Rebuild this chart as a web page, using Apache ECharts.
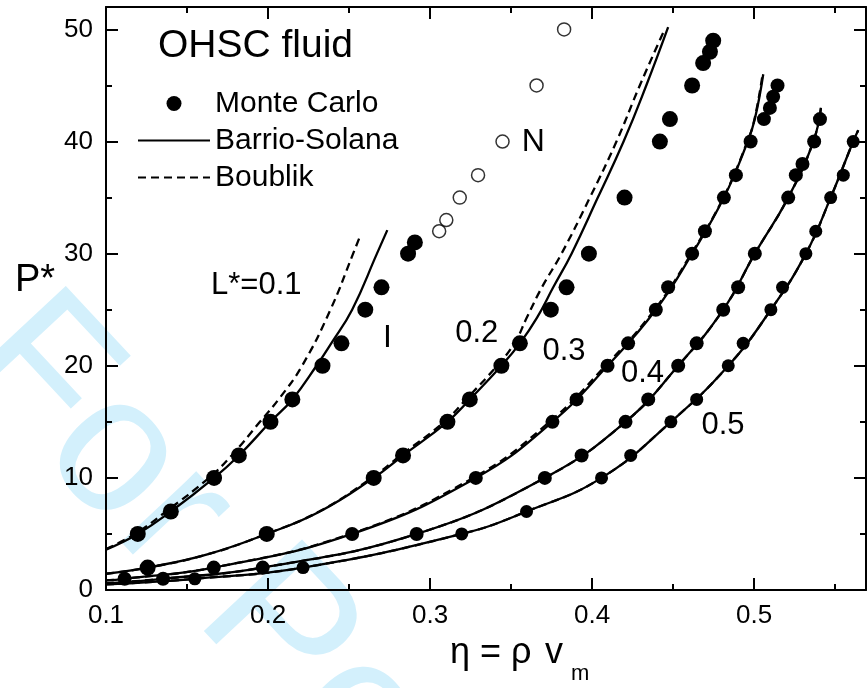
<!DOCTYPE html>
<html>
<head>
<meta charset="utf-8">
<script src="https://cdn.jsdelivr.net/npm/echarts@6/dist/echarts.min.js"></script>
<style>
html,body{margin:0;padding:0;background:#fff;}
#chart{width:867px;height:688px;}
</style>
</head>
<body>
<div id="chart"></div>
<script>
// ---------- axis ranges / ticks ----------
const xRange = [0.1, 0.569];
const yRange = [0, 52];
const xMajor = 0.1, xMinor = 0.05;
const yMajor = 10, yMinor = 5;

// ---------- Monte Carlo (filled) [eta, P*] ----------
const mcL01 = [[0.1196,5],[0.1400,7],[0.1667,10],[0.1820,12],[0.2015,15],[0.2150,17],[0.2336,20],[0.2453,22],[0.2600,25],[0.2700,27],[0.2864,30],[0.2906,31]];
const mcL02 = [[0.1257,2],[0.1992,5],[0.2652,10],[0.2833,12],[0.3107,15],[0.3245,17],[0.3440,20],[0.3554,22],[0.3745,25],[0.3842,27],[0.3980,30],[0.4200,35],[0.4418,40],[0.4480,42],[0.4617,45],[0.4685,47],[0.4727,48],[0.4747,49]];
const mcL03 = [[0.1115,1],[0.1665,2],[0.2519,5],[0.3282,10],[0.3755,15],[0.3904,17],[0.4095,20],[0.4222,22],[0.4393,25],[0.4469,27],[0.4617,30],[0.4696,32],[0.4813,35],[0.4887,37],[0.4978,40],[0.5060,42],[0.5097,43],[0.5117,44],[0.5144,45]];
const mcL04 = [[0.1352,1],[0.1967,2],[0.2917,5],[0.3708,10],[0.3935,12],[0.4206,15],[0.4346,17],[0.4531,20],[0.4645,22],[0.4809,25],[0.4901,27],[0.5004,30],[0.5210,35],[0.5257,37],[0.5298,38],[0.5370,40],[0.5406,42]];
const mcL05 = [[0.1548,1],[0.2216,2],[0.3195,5],[0.3595,7],[0.4058,10],[0.4238,12],[0.4486,15],[0.4645,17],[0.4840,20],[0.4932,22],[0.5103,25],[0.5175,27],[0.5319,30],[0.5380,32],[0.5472,35],[0.5550,37],[0.5611,40]];
// ---------- Monte Carlo nematic branch (open circles) ----------
const mcNematic = [[0.3056,32],[0.3100,33],[0.3183,35],[0.3296,37],[0.3447,40],[0.3657,45],[0.3827,50]];

// ---------- Barrio-Solana (solid) ----------
const bsL01 = [[0.100,3.6],[0.1196,5],[0.1400,7],[0.1667,10],[0.1820,12],[0.2015,15],[0.2150,17],[0.2299,20],[0.2390,22],[0.2519,25],[0.2672,30],[0.2736,32.1]];
const bsL02 = [[0.100,1.45],[0.1257,2],[0.162,3.15],[0.1992,5],[0.2320,7],[0.2652,10],[0.2833,12],[0.3107,15],[0.3245,17],[0.3440,20],[0.3554,22],[0.3660,24.3],[0.3760,27],[0.3873,30],[0.4035,35],[0.4194,40],[0.4334,45],[0.4469,50.2]];
const bsL03 = [[0.100,0.85],[0.1115,1],[0.1665,2],[0.2519,5],[0.3282,10],[0.3755,15],[0.4095,20],[0.4393,25],[0.4617,30],[0.4813,35],[0.4960,40],[0.5004,42],[0.5056,46]];
const bsL04 = [[0.100,0.6],[0.1352,1],[0.1967,2],[0.2917,5],[0.3708,10],[0.4206,15],[0.4531,20],[0.4809,25],[0.5004,30],[0.5210,35],[0.5365,40],[0.5412,43]];
const bsL05 = [[0.100,0.5],[0.1548,1],[0.2216,2],[0.3195,5],[0.3595,7],[0.4058,10],[0.4486,15],[0.4840,20],[0.5103,25],[0.5319,30],[0.5472,35],[0.5611,40],[0.5642,41]];

// ---------- Boublik (dashed) ----------
const bbL01 = [[0.100,3.65],[0.1185,5.05],[0.1375,7.05],[0.1635,10],[0.1775,12],[0.1950,15],[0.2065,17],[0.2210,20],[0.2385,25],[0.2525,30],[0.2570,31.65]];
const bbL02 = [[0.100,1.45],[0.1257,2],[0.162,3.15],[0.1990,5],[0.2315,7],[0.2640,10],[0.2818,12],[0.3088,15],[0.3222,17],[0.3413,20],[0.3520,22],[0.3597,24.3],[0.3690,27],[0.3811,30],[0.3986,35],[0.4150,40],[0.4294,45],[0.4438,49.7]];
const bbL03 = [[0.100,0.85],[0.1115,1],[0.1660,2],[0.2508,5],[0.3265,10],[0.3738,15],[0.4082,20],[0.4385,25],[0.4612,30],[0.4810,35],[0.4958,40],[0.5002,42],[0.5052,46]];
const bbL04 = [[0.100,0.6],[0.1352,1],[0.1967,2],[0.2917,5],[0.3708,10],[0.4206,15],[0.4531,20],[0.4809,25],[0.5004,30],[0.5210,35],[0.5365,40],[0.5412,43]];
const bbL05 = [[0.100,0.5],[0.1548,1],[0.2216,2],[0.3195,5],[0.3595,7],[0.4058,10],[0.4486,15],[0.4840,20],[0.5103,25],[0.5319,30],[0.5472,35],[0.5611,40],[0.5642,41]];

const FONT = 'Liberation Sans, Arial, Helvetica, sans-serif';

function isMultiple(v, step) {
  const r = v / step;
  return Math.abs(r - Math.round(r)) < 1e-6;
}

function xAxisDef(position, interval, tickLen, withLabels, withLine) {
  return {
    type: 'value', position: position, min: xRange[0], max: xRange[1], interval: interval,
    axisLine: { show: withLine, onZero: false, lineStyle: { color: '#000', width: 2 } },
    axisTick: { show: true, inside: true, length: tickLen, lineStyle: { color: '#000', width: 2 } },
    axisLabel: {
      show: withLabels, margin: 13, color: '#000', fontSize: 26, fontFamily: FONT,
      formatter: function (v) { return isMultiple(v, xMajor) ? v.toFixed(1) : ''; }
    },
    splitLine: { show: false }
  };
}
function yAxisDef(position, interval, tickLen, withLabels, withLine) {
  return {
    type: 'value', position: position, min: yRange[0], max: yRange[1], interval: interval,
    axisLine: { show: withLine, onZero: false, lineStyle: { color: '#000', width: 2 } },
    axisTick: { show: true, inside: true, length: tickLen, lineStyle: { color: '#000', width: 2 } },
    axisLabel: {
      show: withLabels, margin: 13, color: '#000', fontSize: 26, fontFamily: FONT,
      formatter: function (v) { return isMultiple(v, yMajor) ? String(Math.round(v)) : ''; }
    },
    splitLine: { show: false }
  };
}

function lineSeries(name, data, dashed) {
  return {
    name: name, type: 'line', data: data, symbol: 'none', showSymbol: false,
    smooth: 0.45, silent: true, z: dashed ? 2 : 3,
    lineStyle: { color: '#000', width: 2.3, type: dashed ? [8, 5] : 'solid' }
  };
}
function mcSeries(name, data, size) {
  return {
    name: name, type: 'scatter', data: data, symbol: 'circle', symbolSize: size,
    itemStyle: { color: '#000', opacity: 1 }, silent: true, z: 5
  };
}

const txt = (text, x, y, size, align) => ({
  type: 'text', x: x, y: y, silent: true, z: 10,
  style: { text: text, fill: '#000', fontSize: size, fontFamily: FONT,
           align: align || 'center', verticalAlign: 'middle',
           textAlign: align || 'center', textVerticalAlign: 'middle' }
});

const chart = echarts.init(document.getElementById('chart'), null, { renderer: 'canvas' });
chart.setOption({
  animation: false,
  backgroundColor: '#fff',
  grid: { left: 106, right: 1, top: 7, bottom: 98, containLabel: false, outerBoundsMode: 'none' },
  xAxis: [
    xAxisDef('bottom', xMajor, 12, true, true),
    xAxisDef('bottom', xMinor, 6, false, false),
    xAxisDef('top', xMajor, 12, false, true),
    xAxisDef('top', xMinor, 6, false, false)
  ],
  yAxis: [
    yAxisDef('left', yMajor, 12, true, true),
    yAxisDef('left', yMinor, 6, false, false),
    yAxisDef('right', yMajor, 12, false, true),
    yAxisDef('right', yMinor, 6, false, false)
  ],
  legend: {
    orient: 'vertical', left: 137, top: 88.5, padding: 0, itemWidth: 72, itemHeight: 15, itemGap: 7,
    itemTextGap: 6, selectedMode: false,
    textStyle: { color: '#000', fontSize: 30, fontFamily: FONT },
    data: [
      { name: 'Monte Carlo', icon: 'circle' },
      { name: 'Barrio-Solana', itemStyle: { opacity: 0 } },
      { name: 'Boublik', itemStyle: { opacity: 0 } }
    ]
  },
  graphic: [
    {
      type: 'text', x: -4, y: 329, rotation: -47 * Math.PI / 180, z: -5, silent: true,
      style: { text: 'For Peer Review', fill: '#d3f0fc', fontSize: 195, fontWeight: 'normal', fontFamily: FONT,
               align: 'left', verticalAlign: 'middle', textAlign: 'left', textVerticalAlign: 'middle' }
    },
    txt('OHSC fluid', 158, 46, 39, 'left'),
    txt('L*=0.1', 211, 285, 31, 'left'),
    txt('I', 387.5, 338, 32),
    txt('0.2', 476.7, 333.3, 31),
    txt('0.3', 564, 351.7, 31),
    txt('0.4', 642.5, 373.3, 31),
    txt('0.5', 723, 425, 31),
    txt('N', 533.3, 142.5, 32),
    txt('P*', 15, 281, 38, 'left'),
    txt('η = ρ', 450, 653, 36, 'left'),
    txt('v', 545, 653, 36, 'left'),
    txt('m', 571, 674, 22, 'left')
  ],
  series: [
    lineSeries('Barrio-Solana', bsL01, false),
    lineSeries('Barrio-Solana', bsL02, false),
    lineSeries('Barrio-Solana', bsL03, false),
    lineSeries('Barrio-Solana', bsL04, false),
    lineSeries('Barrio-Solana', bsL05, false),
    lineSeries('Boublik', bbL01, true),
    lineSeries('Boublik', bbL02, true),
    lineSeries('Boublik', bbL03, true),
    lineSeries('Boublik', bbL04, true),
    lineSeries('Boublik', bbL05, true),
    mcSeries('Monte Carlo', mcL01, 16),
    mcSeries('Monte Carlo', mcL02, 16),
    mcSeries('Monte Carlo', mcL03, 14),
    mcSeries('Monte Carlo', mcL04, 14),
    mcSeries('Monte Carlo', mcL05, 13),
    {
      name: 'Monte Carlo (nematic)', type: 'scatter', data: mcNematic, symbol: 'circle', symbolSize: 13,
      itemStyle: { color: '#fff', borderColor: '#000', borderWidth: 1.5 }, silent: true, z: 5
    }
  ]
});
</script>
</body>
</html>
